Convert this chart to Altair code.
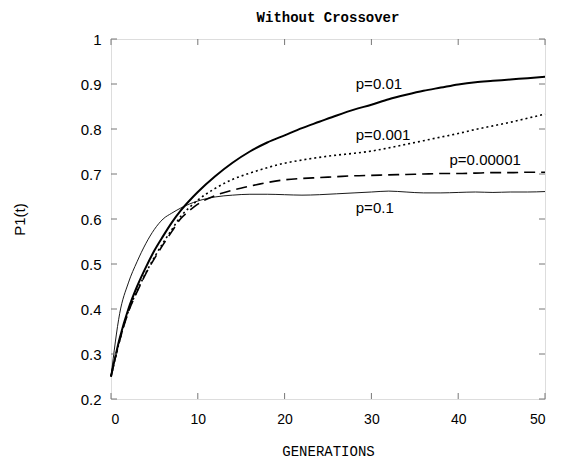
import altair as alt
import pandas as pd

gens = [0, 1, 2, 3, 4, 5, 6, 7, 8, 9, 10, 12, 14, 16, 18, 20, 22, 24, 26, 28, 30,
        32, 34, 36, 38, 40, 42, 44, 46, 48, 50]

p_001 = [0.25, 0.335, 0.40, 0.45, 0.492, 0.53, 0.562, 0.592, 0.618, 0.64, 0.66,
         0.695, 0.725, 0.75, 0.77, 0.786, 0.802, 0.816, 0.83, 0.843, 0.854,
         0.866, 0.876, 0.885, 0.892, 0.899, 0.904, 0.907, 0.91, 0.913, 0.916]
p_0001 = [0.25, 0.33, 0.395, 0.44, 0.48, 0.515, 0.547, 0.576, 0.605, 0.625, 0.642,
          0.668, 0.688, 0.702, 0.714, 0.724, 0.731, 0.737, 0.742, 0.746, 0.751,
          0.758, 0.766, 0.774, 0.782, 0.79, 0.799, 0.807, 0.815, 0.824, 0.833]
p_000001 = [0.25, 0.33, 0.393, 0.438, 0.478, 0.512, 0.543, 0.572, 0.6, 0.618, 0.633,
            0.652, 0.664, 0.673, 0.681, 0.687, 0.69, 0.692, 0.694, 0.696, 0.697,
            0.698, 0.699, 0.7, 0.701, 0.701, 0.702, 0.703, 0.703, 0.704, 0.704]
p_01 = [0.25, 0.39, 0.458, 0.505, 0.545, 0.577, 0.6, 0.613, 0.624, 0.633, 0.64,
        0.649, 0.653, 0.655, 0.655, 0.654, 0.653, 0.654, 0.656, 0.658, 0.66,
        0.662, 0.66, 0.658, 0.658, 0.659, 0.66, 0.659, 0.66, 0.66, 0.661]

label_text = ["p=0.01", "p=0.001", "p=0.00001", "p=0.1"]
label_g = [28.2, 28.2, 39.0, 28.2]
label_v = [0.9, 0.787, 0.731, 0.624]

x_ticks = [0, 10, 20, 30, 40, 50]
y_ticks = [0.2, 0.3, 0.4, 0.5, 0.6, 0.7, 0.8, 0.9, 1.0]

W, H = 434, 360

series = {
    "p=0.01": p_001,
    "p=0.001": p_0001,
    "p=0.00001": p_000001,
    "p=0.1": p_01,
}
styles = {
    "p=0.01": dict(strokeWidth=2.0),
    "p=0.001": dict(strokeWidth=1.6, strokeDash=[2, 3]),
    "p=0.00001": dict(strokeWidth=1.6, strokeDash=[11, 6]),
    "p=0.1": dict(strokeWidth=0.9),
}

rows = []
for name, vals in series.items():
    for g, v in zip(gens, vals):
        rows.append({"series": name, "gen": g, "p1": v})
df = pd.DataFrame(rows)

xscale = alt.Scale(domain=[0, 50], nice=False, zero=False)
yscale = alt.Scale(domain=[0.2, 1.0], nice=False, zero=False)

base = alt.Chart(df)
layers = []
for name in series:
    ln = base.transform_filter(alt.datum.series == name).mark_line(
        color="black", interpolate="monotone", **styles[name]
    ).encode(
        x=alt.X("gen:Q", scale=xscale,
                axis=alt.Axis(values=x_ticks, title="GENERATIONS", grid=False,
                              ticks=False, domain=False, labelPadding=13,
                              labelFont="Liberation Sans", labelFontSize=14,
                              labelColor="black",
                              titleFont="Liberation Mono", titleFontSize=14,
                              titleFontWeight="normal", titlePadding=18,
                              titleColor="black")),
        y=alt.Y("p1:Q", scale=yscale,
                axis=alt.Axis(values=y_ticks, title="P1(t)", grid=False,
                              ticks=False, domain=False, labelPadding=10,
                              format=".1~f",
                              labelFont="Liberation Sans", labelFontSize=15,
                              labelColor="black",
                              titleFont="Liberation Sans", titleFontSize=15,
                              titleFontWeight="normal", titlePadding=53,
                              titleColor="black")),
    )
    layers.append(ln)

xt = pd.DataFrame({"t": x_ticks})
yt = pd.DataFrame({"t": y_ticks})
tick_color = "#777777"
tb = alt.Chart(xt).mark_rule(color=tick_color, strokeWidth=1).encode(
    x=alt.X("t:Q", scale=xscale), y=alt.value(H), y2=alt.value(H - 6))
tt = alt.Chart(xt).mark_rule(color=tick_color, strokeWidth=1).encode(
    x=alt.X("t:Q", scale=xscale), y=alt.value(0), y2=alt.value(6))
tl = alt.Chart(yt).mark_rule(color=tick_color, strokeWidth=1).encode(
    y=alt.Y("t:Q", scale=yscale), x=alt.value(0), x2=alt.value(6))
tr = alt.Chart(yt).mark_rule(color=tick_color, strokeWidth=1).encode(
    y=alt.Y("t:Q", scale=yscale), x=alt.value(W), x2=alt.value(W - 6))

lab = alt.Chart(pd.DataFrame({"text": label_text, "g": label_g, "v": label_v})).mark_text(
    align="left", baseline="middle", font="Liberation Sans", fontSize=15, color="black"
).encode(x=alt.X("g:Q", scale=xscale), y=alt.Y("v:Q", scale=yscale), text="text:N")

chart = alt.layer(*layers, tb, tt, tl, tr, lab).properties(
    width=W, height=H,
    title=alt.TitleParams("Without Crossover", font="Liberation Mono", fontSize=14,
                          fontWeight="bold", color="black", offset=7, anchor="middle",
                          frame="group"),
    autosize=alt.AutoSizeParams(type="none"),
    padding={"left": 103, "top": 31, "right": 10, "bottom": 60},
).configure_view(stroke="#666666", strokeWidth=1).configure(background="white")

chart.save("out.html", embed_options={"renderer": "svg", "actions": False})
